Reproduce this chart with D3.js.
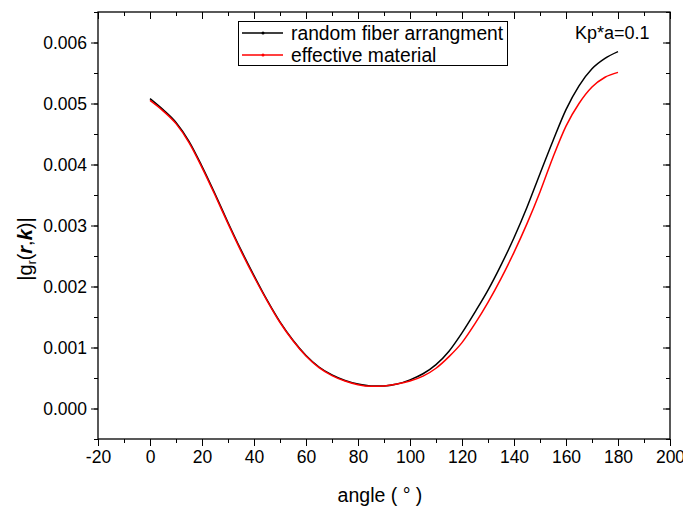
<!DOCTYPE html>
<html><head><meta charset="utf-8">
<script src="https://cdn.jsdelivr.net/npm/d3@7"></script>
<style>body{margin:0;background:#fff}svg{display:block}text{font-family:"Liberation Sans",Arial,sans-serif}</style>
</head><body><svg id="c" width="683" height="509"></svg>
<script>
const angles = [0,5,10,15,20,25,30,35,40,45,50,55,60,65,70,75,80,85,90,95,100,105,110,115,120,125,130,135,140,145,150,155,160,165,170,175,180];
const randomFiber = [0.00508,0.00490,0.00469,0.00438,0.00397,0.00352,0.00305,0.00260,0.00218,0.00178,0.00142,0.00112,0.00087,0.00068,0.00055,0.00046,0.00040,0.00037,0.00037,0.00040,0.00047,0.00057,0.00072,0.00094,0.00124,0.00158,0.00194,0.00235,0.00280,0.00330,0.00385,0.00439,0.00490,0.00529,0.00557,0.00574,0.00585];
const effective = [0.00505,0.00488,0.00467,0.00436,0.00395,0.00350,0.00303,0.00258,0.00216,0.00177,0.00141,0.00111,0.00086,0.00067,0.00054,0.00045,0.00039,0.000365,0.00037,0.00040,0.00045,0.00053,0.00066,0.00085,0.00108,0.00139,0.00174,0.00213,0.00256,0.00303,0.00355,0.00412,0.00463,0.00500,0.00527,0.00543,0.00551];
const xTicks = [-20,0,20,40,60,80,100,120,140,160,180,200];
const yTicks = [0,0.001,0.002,0.003,0.004,0.005,0.006];
const seriesNames = ["random fiber arrangment","effective material"];
const annotation = "Kp*a=0.1";

const svg = d3.select("#c");
const L=98,R=670,T=12,B=439;
const x = d3.scaleLinear().domain([-20,200]).range([L,R]);
const y = d3.scaleLinear().domain([-0.0005,0.0065]).range([B,T]);
const xMinor = d3.range(-20,201,10), yMinor = d3.range(-0.0005,0.00651,0.0005);

function styleAxis(g){g.selectAll("path.domain").remove();g.selectAll("line").attr("stroke","#000").attr("stroke-width",1);g.selectAll("text").attr("fill","#000").style("font-size","17.5px");}
svg.append("g").attr("transform",`translate(0,${B})`).call(d3.axisBottom(x).tickValues(xMinor).tickSize(4).tickFormat("")).call(styleAxis);
svg.append("g").attr("transform",`translate(0,${T})`).call(d3.axisTop(x).tickValues(xMinor).tickSize(-4).tickFormat("")).call(styleAxis);
svg.append("g").attr("transform",`translate(${L},0)`).call(d3.axisLeft(y).tickValues(yMinor).tickSize(4).tickFormat("")).call(styleAxis);
svg.append("g").attr("transform",`translate(${R},0)`).call(d3.axisRight(y).tickValues(yMinor).tickSize(-4).tickFormat("")).call(styleAxis);
svg.append("g").attr("transform",`translate(0,${B})`).call(d3.axisBottom(x).tickValues(xTicks).tickSize(7).tickPadding(5).tickFormat(d=>String(d))).call(styleAxis);
svg.append("g").attr("transform",`translate(0,${T})`).call(d3.axisTop(x).tickValues(xTicks).tickSize(-7).tickFormat("")).call(styleAxis);
svg.append("g").attr("transform",`translate(${L},0)`).call(d3.axisLeft(y).tickValues(yTicks).tickSize(7).tickPadding(4).tickFormat(d3.format(".3f"))).call(styleAxis);
svg.append("g").attr("transform",`translate(${R},0)`).call(d3.axisRight(y).tickValues(yTicks).tickSize(-7).tickFormat("")).call(styleAxis);
svg.append("rect").attr("x",L).attr("y",T).attr("width",R-L).attr("height",B-T).attr("fill","none").attr("stroke","#000").attr("stroke-width",1.3);

const line = d3.line().x((d,i)=>x(angles[i])).y(d=>y(d)).curve(d3.curveMonotoneX);
svg.append("path").datum(randomFiber).attr("d",line).attr("fill","none").attr("stroke","#000").attr("stroke-width",1.5);
svg.append("path").datum(effective).attr("d",line).attr("fill","none").attr("stroke","#f00").attr("stroke-width",1.5);

svg.append("rect").attr("x",238.5).attr("y",21.5).attr("width",269).attr("height",44).attr("fill","#fff").attr("stroke","#000").attr("stroke-width",1);
const colors=["#000","#f00"];
seriesNames.forEach((n,i)=>{
  const yy=33+i*22;
  svg.append("line").attr("x1",242).attr("x2",283).attr("y1",yy).attr("y2",yy).attr("stroke",colors[i]).attr("stroke-width",1.5);
  svg.append("circle").attr("cx",263).attr("cy",yy).attr("r",1.5).attr("fill",colors[i]);
  svg.append("text").attr("x",291).attr("y",yy+7).style("font-size","19.3px").text(n);
});
svg.append("text").attr("x",575).attr("y",39).style("font-size","18px").text(annotation);

svg.append("text").attr("x",380).attr("y",502).attr("text-anchor","middle").style("font-size","19.5px").text("angle ( ° )");
const yl = svg.append("text").attr("transform","translate(32,249) rotate(-90)").attr("text-anchor","middle").style("font-size","20px");
yl.append("tspan").text("|g");
yl.append("tspan").attr("dy",4).style("font-size","12px").text("r");
yl.append("tspan").attr("dy",-4).text("(");
yl.append("tspan").style("font-weight","bold").style("font-style","italic").text("r");
yl.append("tspan").text(",");
yl.append("tspan").style("font-weight","bold").style("font-style","italic").text("k");
yl.append("tspan").text(")|");
</script></body></html>
